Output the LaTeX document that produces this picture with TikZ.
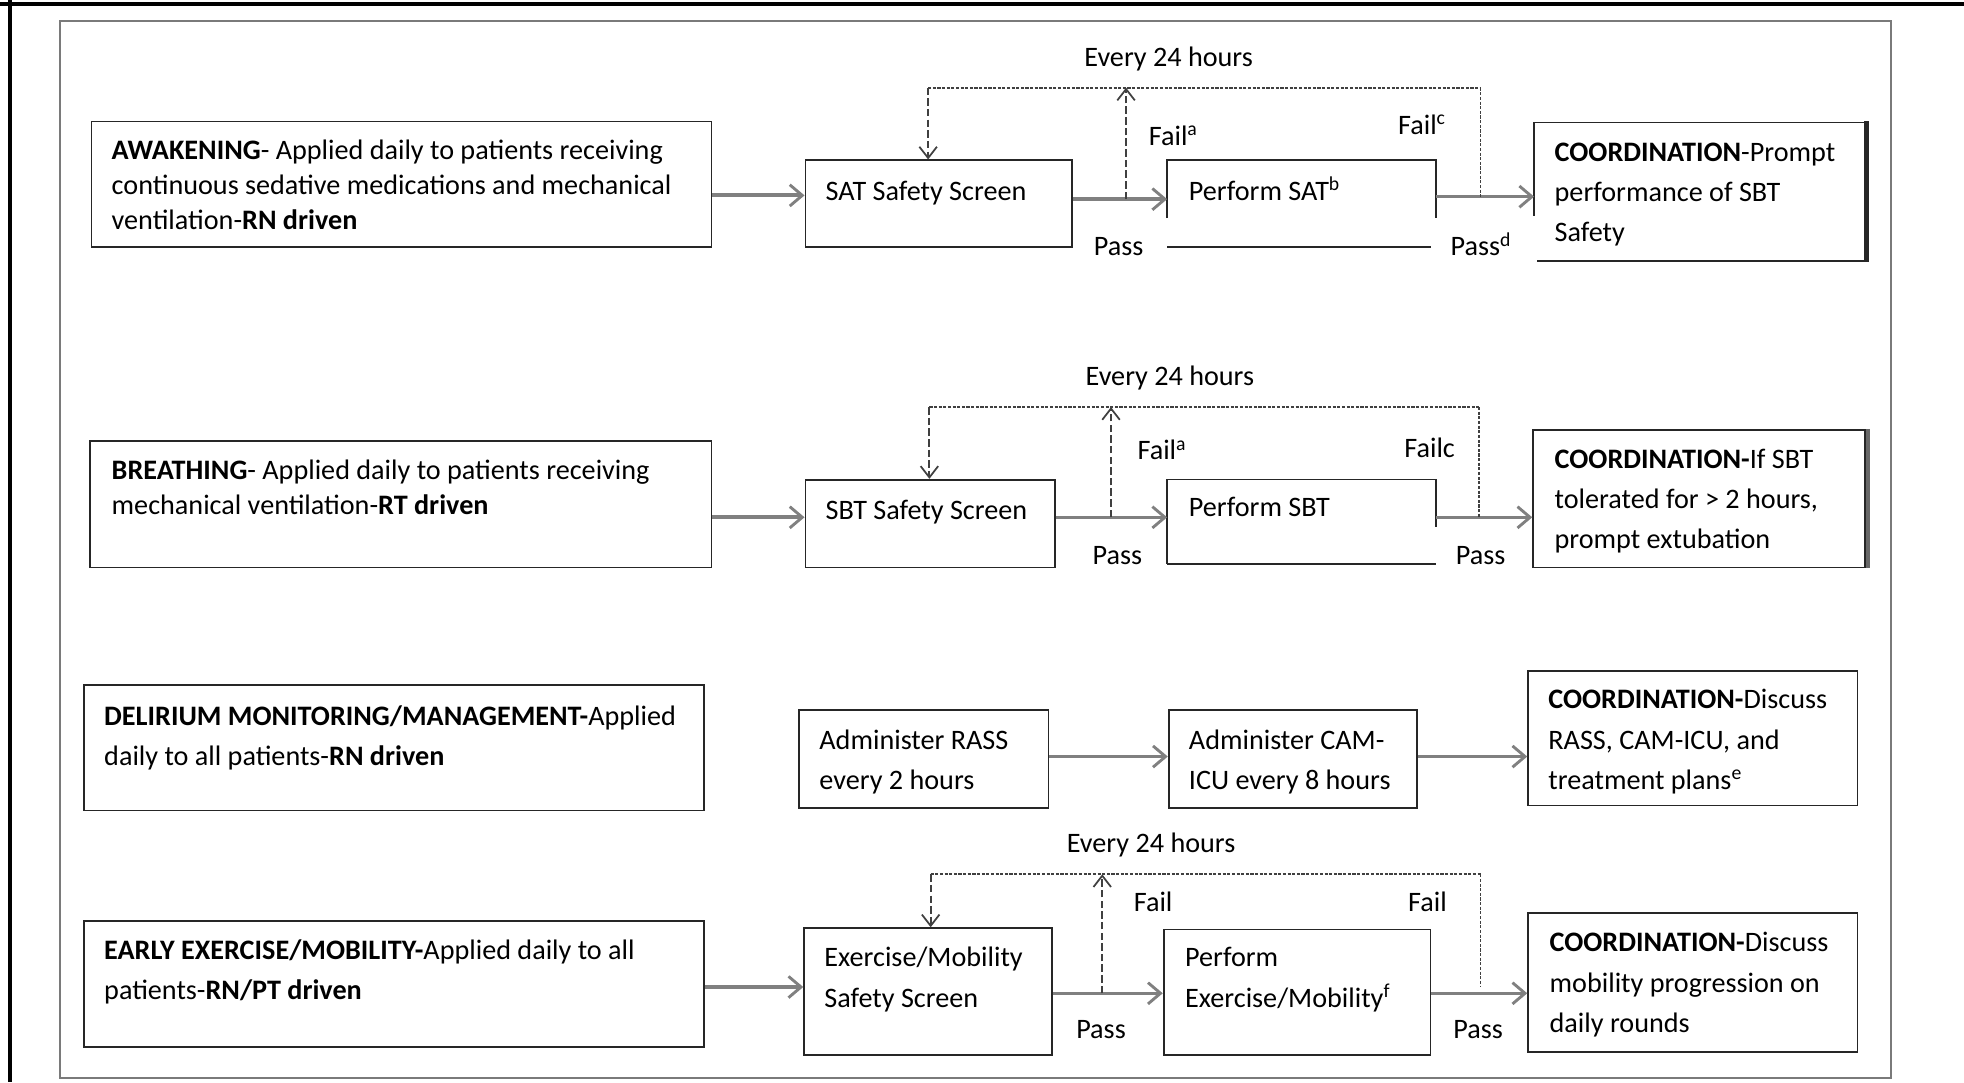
\documentclass[tikz,border=0pt]{standalone}
\usepackage{fontspec}
\setmainfont{Carlito}
\usetikzlibrary{arrows.meta,fit,calc}
\definecolor{boxc}{HTML}{262626}
\definecolor{arrc}{HTML}{808080}
\definecolor{dashc}{HTML}{404040}
\definecolor{framec}{HTML}{7A7A7A}
\begin{document}
\begin{tikzpicture}[x=1pt,y=-1pt,
  box/.style={draw=boxc,line width=1.4pt,inner sep=0pt},
  openbox/.style={draw=none,inner sep=0pt},
  boxline/.style={draw=boxc,line width=1.4pt},
  txt/.style={anchor=base west,inner sep=0pt,align=left,font=\fontsize{22.5}{28}\selectfont},
  txtw/.style={anchor=base west,inner sep=0pt,align=left,font=\fontsize{22.5}{32}\selectfont},
  lbl/.style={inner sep=0pt,font=\fontsize{22.5}{28}\selectfont},
  flow/.style={draw=arrc,line width=2.8pt,-{Straight Barb[length=10pt,width=17pt,line width=2.3pt]}},
  flowthick/.style={flow,line width=3.3pt},
  dashh/.style={draw=dashc,line width=1.4pt,dash pattern=on 2.5pt off 1.2pt},
  dashv/.style={draw=dashc,line width=1.7pt,dash pattern=on 6pt off 2.5pt},
  dtip/.style={-{Straight Barb[length=9pt,width=14pt,line width=1.4pt]}}
]
\useasboundingbox (0,0) rectangle (1568,864);
% outer frame
\draw[line width=3pt] (0,3) -- (1568,3);
\draw[line width=3pt] (8,0) -- (8,864);
\draw[framec,line width=1.6pt] (48,17) rectangle (1510,861);

% ---------- Row 1: Awakening ----------
\node[box,fit={(73,97) (568,197)}] (aw) {};
\node[txt] (taw) at (89,183) {\textbf{AWAKENING}- Applied daily to patients receiving\\continuous sedative medications and mechanical\\ventilation-\textbf{RN driven}};
\node[box,fit={(643,128) (856,197)}] (sat) {};
\node[txt] (tsat) at (659,160) {SAT Safety Screen};
\node[openbox,fit={(932,128) (1146,197)}] (psat) {};
\draw[boxline] ($(psat.south west)+(0,-23)$) -- (psat.north west) -- (psat.north east) -- ($(psat.south east)+(0,-23)$);
\draw[boxline] (psat.south west) -- ($(psat.south east)+(-4,0)$);
\node[txt] (tpsat) at (949,160) {Perform SAT\textsuperscript{b}};
\node[openbox,fit={(1225,98) (1490,208)}] (c1) {};
\draw[boxline] ($(c1.south west)+(0,-36)$) -- (c1.north west) -- (c1.north east);
\draw[boxline] (c1.south east) -- ($(c1.south west)+(2,0)$);
\draw[boxc,line width=3.6pt] ($(c1.north east)+(0,-1)$) -- ($(c1.south east)+(0,1)$);
\node[txtw] (tc1) at (1241,193) {\textbf{COORDINATION}-Prompt\\performance of SBT\\Safety};

\coordinate (r1a) at (0,156);
\coordinate (r1b) at (0,159);
\coordinate (r1c) at (0,157);
\draw[flowthick] (aw.east |- r1a) -- (sat.west |- r1a);
\draw[flow] (sat.east |- r1b) -- (psat.west |- r1b);
\draw[flow] (psat.east |- r1c) -- (c1.west |- r1c);
\coordinate (u1) at (899,159);
\coordinate (d1l) at (741,70);
\coordinate (d1r) at (1182,157);
\draw[dashh] (d1l) -- (d1l -| d1r);
\draw[dashh] (d1l -| d1r) -- (d1r);
\draw[dashv,dtip] (d1l) -- (d1l |- sat.north);
\draw[dashv,dtip] (u1) -- (u1 |- d1l);
\node[lbl,anchor=base] (e1) at (933,53) {Every 24 hours};
\node[lbl,anchor=base west] (f1a) at (917,116) {Fail\textsuperscript{a}};
\node[lbl,anchor=base west] (f1c) at (1116,107) {Fail\textsuperscript{c}};
\node[lbl,anchor=base] (p1a) at (893,204) {Pass};
\node[lbl,anchor=base west] (p1d) at (1158,204) {Pass\textsuperscript{d}};

% ---------- Row 2: Breathing ----------
\node[box,fit={(72,352) (568,453)}] (br) {};
\node[txt] (tbr) at (89,411) {\textbf{BREATHING}- Applied daily to patients receiving\\mechanical ventilation-\textbf{RT driven}};
\node[box,fit={(643,383) (842,453)}] (sbt) {};
\node[txt] (tsbt) at (659,415) {SBT Safety Screen};
\node[openbox,fit={(932,383) (1146,450)}] (psbt) {};
\draw[boxline] (psbt.south west) -- (psbt.north west) -- (psbt.north east) -- ($(psbt.north east)+(0,38)$);
\draw[boxline] (psbt.south west) -- (psbt.south east);
\node[txt] (tpsbt) at (949,412) {Perform SBT};
\node[box,fit={(1224,343) (1489,453)}] (c2) {};
\draw[boxc!70,line width=3pt] ($(c2.north east)+(1.5,0)$) -- ($(c2.south east)+(1.5,0)$);
\node[txtw] (tc2) at (1241,438) {\textbf{COORDINATION-}If SBT\\tolerated for > 2 hours,\\prompt extubation};

\coordinate (r2) at (0,413);
\draw[flowthick] (br.east |- r2) -- (sbt.west |- r2);
\draw[flow] (sbt.east |- r2) -- (psbt.west |- r2);
\draw[flow] (psbt.east |- r2) -- (c2.west |- r2);
\coordinate (u2) at (887,413);
\coordinate (d2l) at (742,325);
\coordinate (d2r) at (1181,413);
\draw[dashh] (d2l) -- (d2l -| d2r);
\draw[dashh] (d2l -| d2r) -- (d2r);
\draw[dashv,dtip] (d2l) -- (d2l |- sbt.north);
\draw[dashv,dtip] (u2) -- (u2 |- d2l);
\node[lbl,anchor=base] (e2) at (934,308) {Every 24 hours};
\node[lbl,anchor=base west] (f2a) at (908,367) {Fail\textsuperscript{a}};
\node[lbl,anchor=base west] (f2c) at (1121,365) {Failc};
\node[lbl,anchor=base] (p2a) at (892,451) {Pass};
\node[lbl,anchor=base] (p2b) at (1182,451) {Pass};

% ---------- Row 3: Delirium ----------
\node[box,fit={(67,547) (562,647)}] (del) {};
\node[txtw] (tdel) at (83,611) {\textbf{DELIRIUM MONITORING/MANAGEMENT-}Applied\\daily to all patients-\textbf{RN driven}};
\node[box,fit={(638,567) (837,645)}] (rass) {};
\node[txtw] (trass) at (654,630) {Administer RASS\\every 2 hours};
\node[box,fit={(933,567) (1131,645)}] (cam) {};
\node[txtw] (tcam) at (949,630) {Administer CAM-\\ICU every 8 hours};
\node[box,fit={(1220,536) (1483,643)}] (c3) {};
\node[txtw] (tc3) at (1236,630) {\textbf{COORDINATION-}Discuss\\RASS, CAM-ICU, and\\treatment plans\textsuperscript{e}};
\coordinate (r3) at (0,604);
\draw[flow] (rass.east |- r3) -- (cam.west |- r3);
\draw[flow] (cam.east |- r3) -- (c3.west |- r3);

% ---------- Row 4: Early exercise ----------
\node[box,fit={(67,735) (562,836)}] (ex) {};
\node[txtw] (tex) at (83,798) {\textbf{EARLY EXERCISE/MOBILITY-}Applied daily to all\\patients-\textbf{RN/PT driven}};
\node[box,fit={(642,741) (840,842)}] (exs) {};
\node[txtw] (texs) at (658,804) {Exercise/Mobility\\Safety Screen};
\node[box,fit={(929,742) (1142,842)}] (pex) {};
\node[txtw] (tpex) at (946,804) {Perform\\Exercise/Mobility\textsuperscript{f}};
\node[box,fit={(1220,729) (1483,840)}] (c4) {};
\node[txtw] (tc4) at (1237,824) {\textbf{COORDINATION-}Discuss\\mobility progression on\\daily rounds};

\coordinate (r4a) at (0,788);
\coordinate (r4b) at (0,793);
\draw[flowthick] (ex.east |- r4a) -- (exs.west |- r4a);
\draw[flow] (exs.east |- r4b) -- (pex.west |- r4b);
\draw[flow] (pex.east |- r4b) -- (c4.west |- r4b);
\coordinate (u4) at (880,793);
\coordinate (d4l) at (743,698);
\coordinate (d4r) at (1182,788);
\draw[dashh] (d4l) -- (d4l -| d4r);
\draw[dashh] (d4l -| d4r) -- (d4r);
\draw[dashv,dtip] (d4l) -- (d4l |- exs.north);
\draw[dashv,dtip] (u4) -- (u4 |- d4l);
\node[lbl,anchor=base] (e4) at (919,681) {Every 24 hours};
\node[lbl,anchor=base west] (f4a) at (905,728) {Fail};
\node[lbl,anchor=base west] (f4c) at (1124,728) {Fail};
\node[lbl,anchor=base] (p4a) at (879,829) {Pass};
\node[lbl,anchor=base] (p4b) at (1180,829) {Pass};
\end{tikzpicture}
\end{document}
